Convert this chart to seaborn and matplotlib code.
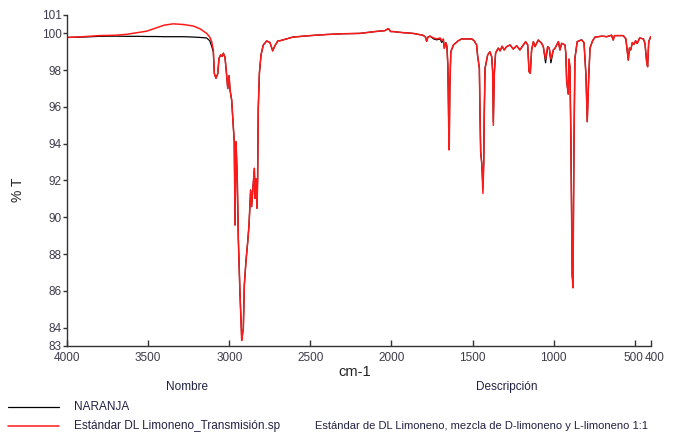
import numpy as np
import pandas as pd
import seaborn as sns
import matplotlib.pyplot as plt
import matplotlib.transforms as mtransforms
from matplotlib.lines import Line2D

# Wavenumber grid (cm-1)
WAVENUMBER = [
    4000, 3900, 3800, 3700, 3632, 3560, 3509, 3450, 3400, 3345, 3280, 3221,
    3180, 3139, 3120, 3108, 3098, 3092, 3082, 3071, 3063, 3053, 3044, 3036,
    3026, 3016, 3009, 3001, 2995, 2985, 2972, 2969, 2964, 2958, 2950, 2944,
    2934, 2923, 2918, 2913, 2907, 2897, 2886, 2878, 2868, 2862, 2852, 2845,
    2841, 2835, 2829, 2825, 2821, 2814, 2804, 2790, 2769, 2749, 2732, 2720,
    2700, 2687, 2607, 2500, 2399, 2300, 2194, 2100, 2040, 2019, 2005, 1990,
    1940, 1867, 1806, 1790, 1783, 1775, 1762, 1740, 1721, 1700, 1690, 1680,
    1674, 1665, 1658, 1652, 1647, 1644, 1640, 1634, 1618, 1588, 1567, 1505,
    1490, 1475, 1469, 1458, 1454, 1450, 1443, 1436, 1431, 1428, 1423, 1407,
    1393, 1382, 1376, 1372, 1366, 1358, 1342, 1330, 1318, 1305, 1290, 1269,
    1249, 1228, 1208, 1187, 1173, 1160, 1152, 1144, 1136, 1125, 1115, 1095,
    1074, 1064, 1050, 1037, 1027, 1017, 1002, 992, 971, 961, 951, 930,
    925, 920, 910, 906, 900, 894, 886, 881, 875, 869, 855, 828,
    813, 801, 793, 784, 776, 760, 745, 700, 673, 643, 633, 625,
    571, 555, 540, 533, 525, 515, 505, 495, 485, 470, 447, 437,
    427, 421, 414, 402, 400,
]

# Estándar DL Limoneno (red)
T_ESTANDAR = [
    99.78, 99.82, 99.88, 99.90, 99.95, 100.05, 100.12, 100.30, 100.45, 100.52, 100.48, 100.40,
    100.25, 100.00, 99.80, 99.55, 99.10, 97.83, 97.56, 97.80, 98.64, 98.83, 98.75, 98.92,
    98.70, 97.74, 97.00, 97.70, 96.92, 96.38, 94.50, 94.11, 89.58, 94.11, 91.94, 88.86,
    85.95, 83.30, 83.60, 83.96, 86.30, 87.59, 88.67, 89.58, 91.48, 90.58, 91.76, 92.66,
    91.03, 92.10, 90.49, 92.00, 95.93, 97.83, 98.83, 99.37, 99.59, 99.50, 99.05, 99.30,
    99.60, 99.60, 99.80, 99.88, 99.94, 99.98, 100.00, 100.10, 100.15, 100.26, 100.10, 100.10,
    100.05, 100.00, 99.90, 99.80, 99.57, 99.80, 99.85, 99.75, 99.70, 99.75, 99.60, 99.70,
    99.19, 99.50, 99.30, 98.20, 95.00, 93.66, 97.10, 99.00, 99.37, 99.60, 99.70, 99.70,
    99.60, 99.37, 98.80, 98.10, 95.56, 93.57, 92.90, 91.30, 93.00, 95.56, 98.10, 98.82,
    99.00, 98.73, 97.90, 95.00, 97.80, 98.93, 99.20, 99.05, 99.30, 99.10, 99.28, 99.37,
    99.15, 99.33, 99.10, 99.37, 99.55, 99.37, 97.92, 97.83, 99.10, 99.55, 99.28, 99.64,
    99.46, 99.28, 98.60, 99.28, 99.19, 98.60, 99.10, 99.19, 99.55, 99.10, 99.46, 99.37,
    98.90, 97.40, 96.70, 98.60, 98.20, 94.47, 86.86, 86.16, 93.80, 98.64, 99.55, 99.65,
    99.50, 97.74, 95.20, 97.57, 99.20, 99.60, 99.80, 99.85, 99.82, 99.90, 99.64, 99.88,
    99.88, 99.70, 98.55, 99.20, 99.10, 99.50, 99.40, 99.60, 99.45, 99.75, 99.70, 99.45,
    98.46, 98.19, 99.55, 99.82, 99.82,
]

# NARANJA (black)
T_NARANJA = [
    99.78, 99.80, 99.84, 99.85, 99.84, 99.84, 99.83, 99.83, 99.82, 99.82, 99.82, 99.80,
    99.78, 99.75, 99.60, 99.30, 99.00, 97.83, 97.56, 97.80, 98.64, 98.83, 98.75, 98.92,
    98.70, 97.74, 97.00, 97.70, 96.92, 96.38, 94.50, 94.11, 89.58, 94.11, 91.94, 88.86,
    85.95, 83.40, 83.70, 83.96, 86.30, 87.59, 88.67, 89.58, 91.48, 90.58, 91.76, 92.66,
    91.03, 92.10, 90.49, 92.00, 95.93, 97.83, 98.83, 99.37, 99.59, 99.50, 99.05, 99.30,
    99.60, 99.60, 99.80, 99.88, 99.94, 99.98, 100.00, 100.10, 100.15, 100.26, 100.10, 100.10,
    100.05, 100.00, 99.90, 99.80, 99.57, 99.80, 99.85, 99.70, 99.65, 99.70, 99.50, 99.65,
    99.19, 99.50, 99.30, 98.20, 95.00, 93.80, 97.10, 99.00, 99.37, 99.60, 99.70, 99.70,
    99.60, 99.37, 98.80, 98.10, 95.56, 93.57, 92.90, 91.60, 93.00, 95.56, 98.10, 98.82,
    99.00, 98.73, 97.90, 95.20, 97.80, 98.93, 99.20, 99.05, 99.30, 99.10, 99.28, 99.37,
    99.15, 99.33, 99.10, 99.37, 99.55, 99.37, 97.92, 97.83, 99.10, 99.55, 99.28, 99.64,
    99.46, 99.28, 98.40, 99.28, 99.19, 98.40, 99.10, 99.19, 99.55, 99.10, 99.46, 99.37,
    98.90, 97.40, 96.70, 98.60, 98.20, 94.47, 86.86, 86.40, 93.80, 98.64, 99.55, 99.65,
    99.50, 97.74, 95.20, 97.57, 99.20, 99.60, 99.80, 99.85, 99.82, 99.90, 99.64, 99.88,
    99.88, 99.70, 98.55, 99.20, 99.10, 99.50, 99.40, 99.60, 99.45, 99.75, 99.70, 99.45,
    98.46, 98.19, 99.55, 99.82, 99.82,
]

X_TICKS = [4000, 3500, 3000, 2500, 2000, 1500, 1000, 500, 400]
Y_TICKS = [83, 84, 86, 88, 90, 92, 94, 96, 98, 100, 101]

LABEL_NARANJA = 'NARANJA'
LABEL_ESTANDAR = 'Estándar DL Limoneno_Transmisión.sp'
DESC_ESTANDAR = 'Estándar de DL Limoneno, mezcla de D-limoneno y L-limoneno 1:1'

W, H = 699, 432

sns.set_style('ticks')
plt.rcParams['font.family'] = ['Liberation Sans', 'DejaVu Sans']

df = pd.DataFrame({
    'cm-1': WAVENUMBER,
    'naranja': T_NARANJA,
    'estandar': T_ESTANDAR,
})

fig = plt.figure(figsize=(W / 100, H / 100), dpi=100)
ax = fig.add_axes([67 / W, 1 - 346 / H, (651 - 67) / W, (346 - 15) / H])

sns.lineplot(data=df, x='cm-1', y='naranja', ax=ax, color='black',
             linewidth=0.9, estimator=None, sort=False)
sns.lineplot(data=df, x='cm-1', y='estandar', ax=ax, color='#ff1a1a',
             linewidth=1.1, estimator=None, sort=False)

ax.set_xlim(4000, 400)
ax.set_ylim(83, 101)
ax.set_xticks(X_TICKS)
ax.set_yticks(Y_TICKS)
ax.set_xticklabels([str(t) for t in X_TICKS])
ax.set_yticklabels([str(t) for t in Y_TICKS])
ax.tick_params(axis='x', direction='in', length=4, width=1, pad=4,
               labelsize=8.5, labelcolor='#3c3c4c', color='#333333')
ax.tick_params(axis='y', direction='out', length=3, width=1, pad=1,
               labelsize=8.5, labelcolor='#3c3c4c', color='#333333')
for s in ['top', 'right']:
    ax.spines[s].set_visible(False)
for s in ['left', 'bottom']:
    ax.spines[s].set_linewidth(1.0)
    ax.spines[s].set_color('#333333')
ax.set_xlabel('')
ax.set_ylabel('')

# the last two x labels sit side by side ("500400"): nudge them apart
xlabels = ax.get_xticklabels()
xlabels[-1].set_transform(xlabels[-1].get_transform() +
                          mtransforms.ScaledTranslation(4 / 100, 0, fig.dpi_scale_trans))
xlabels[-2].set_transform(xlabels[-2].get_transform() +
                          mtransforms.ScaledTranslation(-1 / 100, 0, fig.dpi_scale_trans))

# Axis titles
fig.text(18 / W, 1 - 190 / H, '% T', rotation=90, ha='center', va='center',
         fontsize=10, color='#222222')
fig.text(355 / W, 1 - 372 / H, 'cm-1', ha='center', va='center',
         fontsize=10.5, color='#222222')
fig.text(187 / W, 1 - 387 / H, 'Nombre', ha='center', va='center',
         fontsize=8.5, color='#222244')
fig.text(507 / W, 1 - 387 / H, 'Descripción', ha='center', va='center',
         fontsize=8.5, color='#222244')

# Legend table
fig.add_artist(Line2D([8 / W, 59 / W], [1 - 407 / H] * 2, color='black',
                      linewidth=0.9, transform=fig.transFigure))
fig.add_artist(Line2D([8 / W, 59 / W], [1 - 426 / H] * 2, color='#ff1a1a',
                      linewidth=1.1, transform=fig.transFigure))
fig.text(74 / W, 1 - 407 / H, LABEL_NARANJA, ha='left', va='center',
         fontsize=8.5, color='#222244')
fig.text(74 / W, 1 - 426 / H, LABEL_ESTANDAR, ha='left', va='center',
         fontsize=8.5, color='#222244')
fig.text(315 / W, 1 - 426 / H, DESC_ESTANDAR, ha='left', va='center',
         fontsize=8.0, color='#222244')

fig.savefig('out.png', dpi=100)
